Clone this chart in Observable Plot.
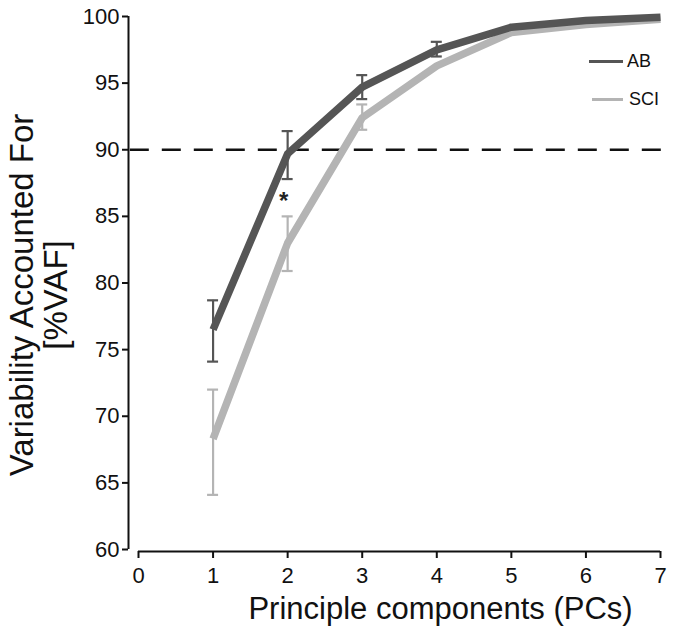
<!DOCTYPE html>
<html>
<head>
<meta charset="utf-8">
<script src="https://cdn.jsdelivr.net/npm/d3@7"></script>
<script src="https://cdn.jsdelivr.net/npm/@observablehq/plot@0.6"></script>
<style>
  body { margin: 0; background: #fff; font-family: "Liberation Sans", Arial, sans-serif; }
  #wrap { position: relative; width: 675px; height: 634px; }
  .leg { position: absolute; font-size: 18px; color: #111; line-height: 1; }
  .legline { position: absolute; height: 3px; }
</style>
</head>
<body>
<div id="wrap"></div>
<script>
// Data
const pcs = [1, 2, 3, 4, 5, 6, 7];
const abMean  = [76.5, 89.7, 94.7, 97.5, 99.2, 99.7, 99.95];
const sciMean = [68.3, 83.0, 92.4, 96.3, 98.8, 99.4, 99.8];
const abLow   = [74.1, 87.8, 93.8, 97.0];
const abHigh  = [78.7, 91.4, 95.6, 98.1];
const sciLow  = [64.1, 80.9, 91.5];
const sciHigh = [72.0, 85.0, 93.4];
const yTicks = [60, 65, 70, 75, 80, 85, 90, 95, 100];
const xTicks = [0, 1, 2, 3, 4, 5, 6, 7];
const threshold = 90;
const signif = [{pc: 2, y: 86.4, text: "*"}];

const groups = ["AB", "SCI"];
const colors = {AB: "#555555", SCI: "#b4b4b4"};

const lineData = [
  ...pcs.map((pc, i) => ({pc, v: sciMean[i], g: "SCI"})),
  ...pcs.map((pc, i) => ({pc, v: abMean[i], g: "AB"}))
];
const errData = [
  ...sciLow.map((lo, i) => ({pc: pcs[i], lo, hi: sciHigh[i], g: "SCI"})),
  ...abLow.map((lo, i) => ({pc: pcs[i], lo, hi: abHigh[i], g: "AB"}))
];

const font = "Liberation Sans, Arial, sans-serif";

const chart = Plot.plot({
  width: 675,
  height: 634,
  marginLeft: 138,
  marginRight: 15,
  marginTop: 16,
  marginBottom: 85,
  style: {fontFamily: font, background: "#fff", color: "#111"},
  x: {domain: [0, 7]},
  y: {domain: [60, 100]},
  marks: [
    // axes
    Plot.ruleX([0], {y1: 60, y2: 100, dx: -10, stroke: "#111", strokeWidth: 2}),
    Plot.axisY({ticks: yTicks, tickSize: 6, dx: -10, tickPadding: 3, fontSize: 22, label: null, stroke: "#111", strokeWidth: 2, tickFormat: d3.format("d")}),
    Plot.ruleY([60], {x1: 0, x2: 7, dy: 2, stroke: "#111", strokeWidth: 2}),
    Plot.axisX({ticks: xTicks, tickSize: 7, dy: 2, tickPadding: 9, fontSize: 22, label: null, stroke: "#111", strokeWidth: 2, tickFormat: d3.format("d")}),
    // threshold
    Plot.ruleY([threshold], {x1: -0.11, x2: 7.05, stroke: "#111", strokeWidth: 2.5, strokeDasharray: "19,13"}),
    // lines
    Plot.line(lineData, {x: "pc", y: "v", z: "g", stroke: d => colors[d.g], strokeWidth: 7.5, strokeLinejoin: "round", strokeLinecap: "butt"}),
    // error bars
    Plot.ruleX(errData, {x: "pc", y1: "lo", y2: "hi", stroke: d => colors[d.g], strokeWidth: 2.2}),
    Plot.ruleY(errData, {y: "lo", x1: "pc", x2: "pc", insetLeft: -5.5, insetRight: -5.5, stroke: d => colors[d.g], strokeWidth: 2.2}),
    Plot.ruleY(errData, {y: "hi", x1: "pc", x2: "pc", insetLeft: -5.5, insetRight: -5.5, stroke: d => colors[d.g], strokeWidth: 2.2}),
    // significance
    Plot.text(signif, {x: "pc", y: "y", text: "text", dx: -4, dy: 4, fontSize: 24, fontWeight: "bold", fill: "#222"}),
    // axis titles
    Plot.text(["Variability Accounted For"], {frameAnchor: "left", textAnchor: "middle", lineAnchor: "middle", text: d => d, rotate: -90, dx: -116, dy: 12, fontSize: 33, fill: "#111"}),
    Plot.text(["[%VAF]"], {frameAnchor: "left", textAnchor: "middle", lineAnchor: "middle", text: d => d, rotate: -90, dx: -82, dy: 12, fontSize: 33, fill: "#111"}),
    Plot.text(["Principle components (PCs)"], {frameAnchor: "bottom", textAnchor: "middle", lineAnchor: "middle", text: d => d, dx: 41, dy: 60, fontSize: 31, fill: "#111"})
  ]
});

const wrap = document.getElementById("wrap");
wrap.appendChild(chart);

// Legend (inside plot area, top right)
const legendPos = {AB: {x1: 589, x2: 623, y: 61, tx: 627}, SCI: {x1: 592, x2: 623, y: 99, tx: 629}};
groups.forEach(g => {
  const p = legendPos[g];
  const ln = document.createElement("div");
  ln.className = "legline";
  ln.style.left = p.x1 + "px";
  ln.style.width = (p.x2 - p.x1) + "px";
  ln.style.top = (p.y - 1.5) + "px";
  ln.style.background = colors[g];
  wrap.appendChild(ln);
  const t = document.createElement("div");
  t.className = "leg";
  t.textContent = g;
  t.style.left = p.tx + "px";
  t.style.top = (p.y - 9) + "px";
  wrap.appendChild(t);
});
</script>
</body>
</html>
